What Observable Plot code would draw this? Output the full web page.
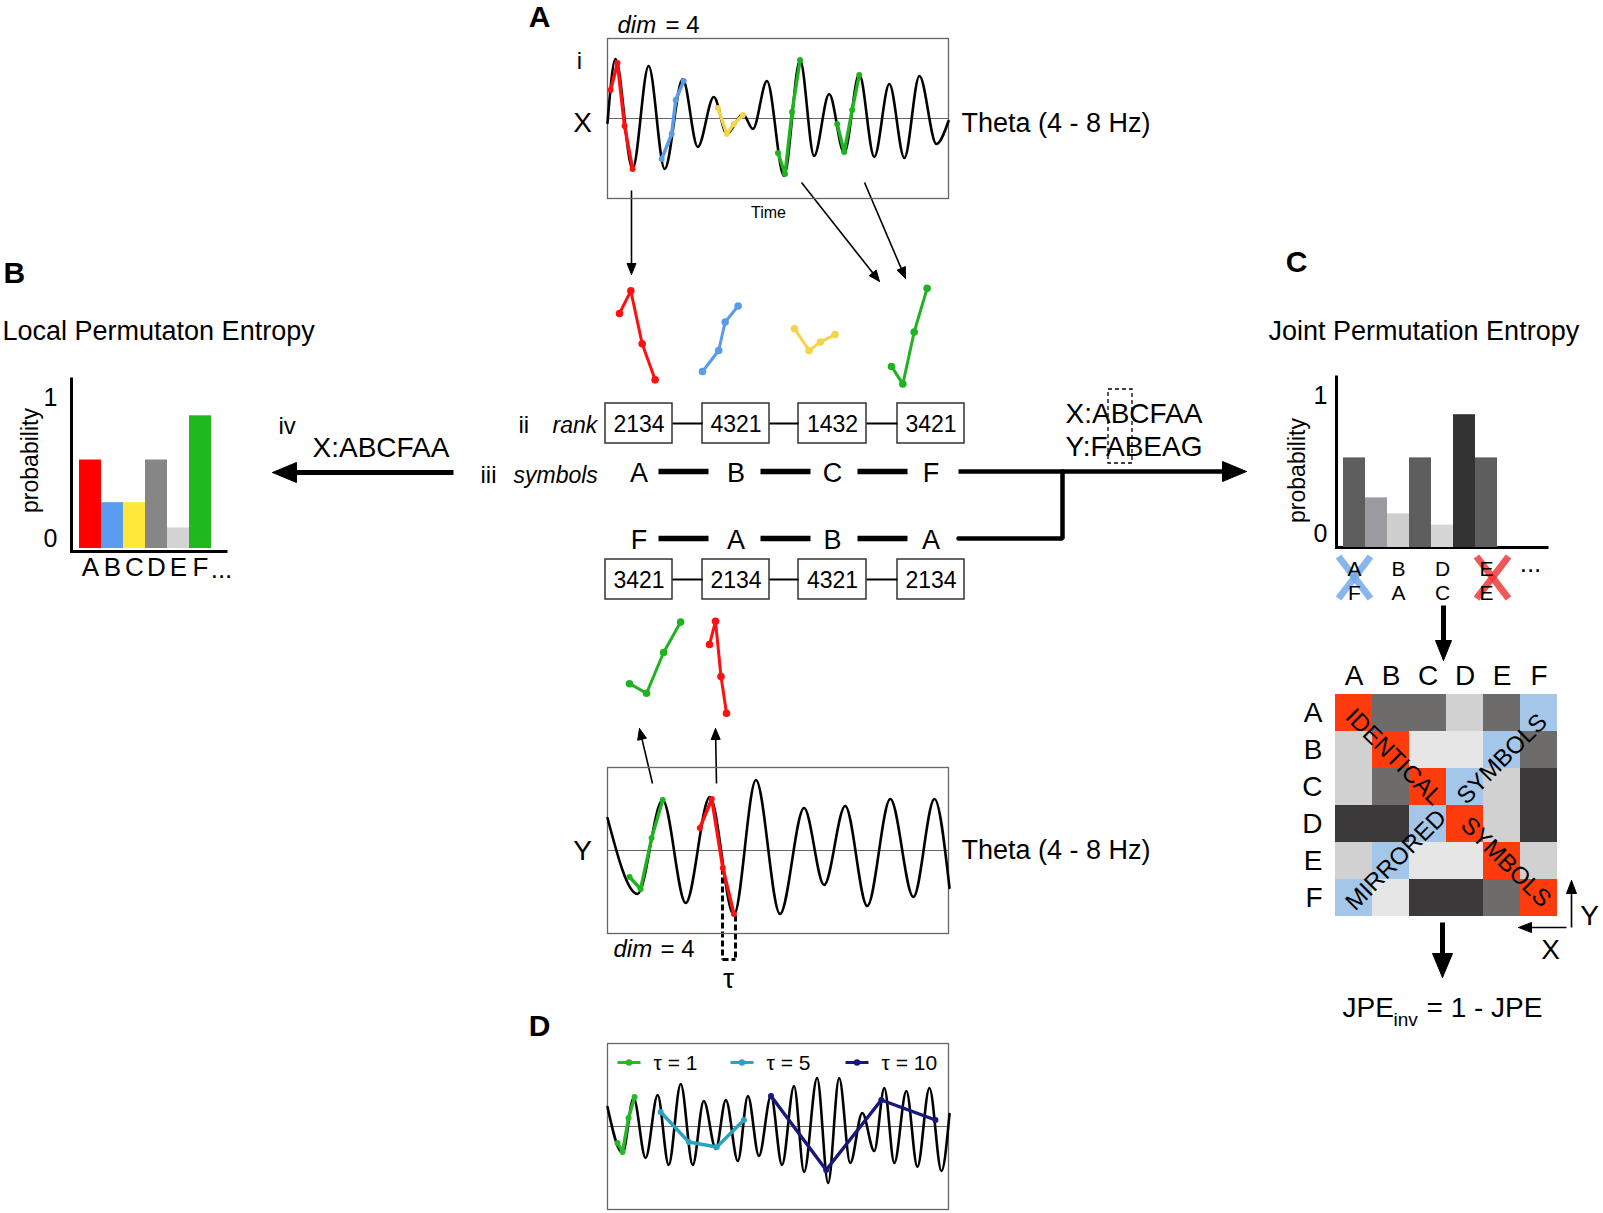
<!DOCTYPE html>
<html><head><meta charset="utf-8">
<script src="https://cdn.jsdelivr.net/npm/d3@7"></script>
<script src="https://cdn.jsdelivr.net/npm/@observablehq/plot@0.6"></script>
<style>
html,body{margin:0;padding:0;background:#fff;}
#root{position:relative;width:1603px;height:1213px;overflow:hidden;background:#fff;}
</style></head>
<body><div id="root"></div>
<script>
// ================= DATA =================
// Panel A(i): theta signal X – extrema [time, amplitude]
const signalX_t = [0,8,25,41,57,75,90,106,119,135,145,159,176,192,206,221,236,251,266,281,296,311,328,340];
const signalX_v = [-0.09,1.19,-1.01,1.05,-1.01,0.79,-0.57,0.43,-0.31,0.09,-0.21,0.75,-1.15,1.17,-0.75,0.49,-0.69,0.89,-0.77,0.69,-0.79,0.85,-0.51,-0.05];
// embedded motifs (dim = 4) on X
const motifX_t = [[3,10,17,25],[54,64,68,76],[110,119,126,135],[170,177,184,192],[229,236,244,251]];
const motifX_v = [[0.57,1.11,-0.15,-1.01],[-0.81,-0.31,0.37,0.75],[0.21,-0.31,-0.11,0.07],[-0.69,-1.11,0.13,1.17],[-0.11,-0.67,0.17,0.87]];
const ranksX = ["2134","4321","1432","3421"];
const symbolsX = ["A","B","C","F"];

// theta signal Y
const signalY_t = [0,30,55,78,102,126,148,172,196,216,237,259,282,305,326,341];
const signalY_v = [0.65,-0.87,1.01,-1.05,1.07,-1.29,1.41,-1.27,0.85,-0.69,0.89,-1.11,1.03,-0.93,1.03,-0.75];
const motifY_t = [[22,33,44,55],[92,104,115,126]];
const motifY_v = [[-0.53,-0.77,0.25,1.01],[0.45,1.03,-0.35,-1.27]];
const ranksY = ["3421","2134","4321","2134"];
const symbolsY = ["F","A","B","A"];
const seqX = "X:ABCFAA";
const seqY = "Y:FABEAG";

// Panel D: signal and motifs for three delays
const signalD_t = [0,15,26,38,50,61,73,85,96,108,118,130,140,151,163,174,186,196,209,220,231,242,254,266,276,286,298,309,321,333,341];
const signalD_v = [0.39,-0.53,0.57,-0.63,0.63,-0.77,0.85,-0.77,0.51,-0.45,0.53,-0.69,0.61,-0.59,0.61,-0.77,0.81,-0.91,0.97,-1.13,0.97,-0.73,0.27,-0.49,0.77,-0.73,0.71,-0.81,0.77,-0.89,0.25];
const tauValues = [1,5,10];
const motifD_t = [[10,15,21,27],[53,81,109,136],[163,218,273,327]];
const motifD_v = [[-0.33,-0.51,0.17,0.59],[0.29,-0.31,-0.41,0.13],[0.61,-0.87,0.53,0.13]];

// Panel B: local permutation entropy distribution
const lpeSymbols = ["A","B","C","D","E","F"];
const lpeProb = [0.56,0.29,0.29,0.56,0.13,0.84];

// Panel C: joint distribution
const jpeProb = [0.56,0.31,0.21,0.56,0.14,0.83,0.56];
const jpeLabelIdx = [0,2,4,6];
const jpeLabelX = ["A","B","D","E"];
const jpeLabelY = ["F","A","C","E"];
const jpeCrossKind = ["mirrored","identical"];

// Joint matrix (rows Y, cols X)
const matSymbols = ["A","B","C","D","E","F"];
const jpeMatrix = [
  ["id","g3","g3","g2","g3","mir"],
  ["g2","id","g1","g1","mir","g3"],
  ["g2","g3","id","mir","g2","g4"],
  ["g4","g4","mir","id","g2","g4"],
  ["g2","mir","g1","g1","id","g2"],
  ["mir","g1","g4","g4","g3","id"]
];
const matNotes = ["IDENTICAL","SYMBOLS","MIRRORED","SYMBOLS"];
const matNoteCells = [["B","B"],["E","B"],["B","E"],["E","E"]];

// ================= STYLE / LAYOUT =================
const W = 1603, H = 1213;
const FONT = '"Liberation Sans", Arial, Helvetica, sans-serif';
const svgStyle = {background:"transparent", overflow:"visible", fontFamily: FONT};
const motifXColors = ["#ff1010","#5a9bea","#f6d44a","#1fb41f","#1fb41f"];
const motifYColors = ["#1fb41f","#ff1010"];
const tauColors = ["#26b826","#2aa3c2","#17177c"];
const lpeColors = ["#ff0000","#5b9bf0","#ffe83a","#868686","#d3d3d3","#1fb81f"];
const jpeColors = ["#5e5e5e","#9b9b9f","#cfcfcf","#5e5e5e","#d6d6d6","#333333","#5e5e5e"];
const crossColors = {mirrored:"#72aaea", identical:"#f03a3a"};
const crossCenters = [[1354,577],[1492,577]];
const matColors = {domain:["id","mir","g1","g2","g3","g4"], range:["#fe3b0c","#a4c6e8","#e6e6e6","#d1d1d1","#6e6b6b","#3b3939"]};
const intFmt = d => String(d);

const root = document.getElementById("root");
function place(svg, left, top){
  svg.style.position = "absolute";
  svg.style.left = left + "px";
  svg.style.top = top + "px";
  root.appendChild(svg);
}
const pts = (t, v) => t.map((d,i) => ({t:d, v:v[i]}));

// ---------- overlay (diagram annotations) ----------
const M = [];
function seg(list, w, o = {}) {
  M.push(Plot.link(list, {x1:d=>d[0], y1:d=>d[1], x2:d=>d[2], y2:d=>d[3], stroke:"#000", strokeWidth:w, ...o}));
}
function T(s, x, y, size, o = {}) {
  M.push(Plot.text([s], {x:()=>x, y:()=>y, text:d=>d, fontSize:size, fill:"#000", fontFamily:FONT, textAnchor:"middle", ...o}));
}
function arrow(x1, y1, x2, y2, w, len, half) {
  const dx = x2-x1, dy = y2-y1, Ln = Math.hypot(dx,dy), ux = dx/Ln, uy = dy/Ln;
  seg([[x1, y1, x2-ux*len*0.8, y2-uy*len*0.8]], w);
  const bx = x2-ux*len, by = y2-uy*len;
  const poly = [[x2,y2],[bx-uy*half, by+ux*half],[bx+uy*half, by-ux*half],[x2,y2]];
  M.push(Plot.line(poly, {x:d=>d[0], y:d=>d[1], fill:"#000", stroke:"#000", strokeWidth:1}));
}

// panel letters and titles
T("A", 539, 17, 30, {fontWeight:"bold"});
T("B", 3, 273, 30, {fontWeight:"bold", textAnchor:"start"});
T("C", 1296, 262, 30, {fontWeight:"bold"});
T("D", 539, 1026, 30, {fontWeight:"bold"});
T("Local Permutaton Entropy", 2, 331, 27, {textAnchor:"start"});
T("Joint Permutation Entropy", 1268, 331, 27, {textAnchor:"start"});

// panel A labels
T("dim", 617, 25, 24, {textAnchor:"start", fontStyle:"italic"});
T("= 4", 665, 25, 24, {textAnchor:"start"});
T("dim", 613, 949, 24, {textAnchor:"start", fontStyle:"italic"});
T("= 4", 660, 949, 24, {textAnchor:"start"});
T("i", 579, 61, 24);
T("X", 582, 123, 28);
T("Y", 582, 851, 28);
T("Theta (4 - 8 Hz)", 961, 123, 27, {textAnchor:"start"});
T("Theta (4 - 8 Hz)", 961, 850, 27, {textAnchor:"start"});
T("Time", 768, 212, 16);
T("τ", 728, 979, 28);
T("ii", 518, 425, 24, {textAnchor:"start"});
T("rank", 552, 425, 23, {textAnchor:"start", fontStyle:"italic"});
T("iii", 480, 475, 24, {textAnchor:"start"});
T("symbols", 513, 475, 23, {textAnchor:"start", fontStyle:"italic"});
T("iv", 278, 426, 24, {textAnchor:"start"});
T(seqX, 312, 448, 28, {textAnchor:"start"});
T(seqX, 1065, 414, 28, {textAnchor:"start"});
T(seqY, 1065, 447, 28, {textAnchor:"start"});

// rank boxes and symbols
const boxL = [605,702,798,897], boxR = [672,769,866,964];
const boxC = boxL.map((l,i)=>(l+boxR[i])/2);
[[403,443,423,ranksX],[559,599,579,ranksY]].forEach(([y1,y2,yc,labels]) => {
  M.push(Plot.rect(boxL.map((l,i)=>({x1:l, x2:boxR[i], y1, y2})), {x1:"x1", x2:"x2", y1:"y1", y2:"y2", fill:"none", stroke:"#333", strokeWidth:1.5}));
  seg([0,1,2].map(i=>[boxR[i], yc, boxL[i+1], yc]), 2);
  labels.forEach((s,i)=>T(s, boxC[i], yc+1, 23));
});
[[471,473,symbolsX],[538,540,symbolsY]].forEach(([yl,yt,syms]) => {
  seg([[658,yl,708,yl],[760,yl,810,yl],[857,yl,907,yl]], 5.5);
  syms.forEach((s,i)=>T(s, boxC[i], yt, 27));
});
M.push(Plot.line([[958,538],[1062,538],[1062,471]], {x:d=>d[0], y:d=>d[1], stroke:"#000", strokeWidth:4.5, strokeLinejoin:"miter"}));
arrow(958, 471, 1246, 471, 4.5, 24, 10);
M.push(Plot.rect([{x1:1108,x2:1132,y1:389,y2:463}], {x1:"x1",x2:"x2",y1:"y1",y2:"y2", fill:"none", stroke:"#000", strokeWidth:1.3, strokeDasharray:"4,3"}));
arrow(453, 472, 272, 472, 5, 24, 10);

// thin arrows from signals to motifs
arrow(631, 190, 631, 274, 1.6, 11, 4.5);
arrow(801, 182, 879, 281, 1.6, 11, 4.5);
arrow(864, 182, 905, 278, 1.6, 11, 4.5);
arrow(652, 783, 639, 728, 1.6, 11, 4.5);
arrow(716, 783, 715, 728, 1.6, 11, 4.5);

// tau bracket
seg([[722,868,722,959],[735,915,735,959],[722,959,735,959]], 3, {strokeDasharray:"6,3"});

// B and C axes lines
seg([[71,377,71,552.5],[69.5,551,227,551]], 3);
seg([[1336,375,1336,548.5],[1334.5,547,1548,547]], 3);
T("...", 221, 569, 26);
T("...", 1530, 563, 26);

// strike-through crosses over excluded joint symbols (panel C)
jpeCrossKind.forEach((kind,k) => {
  const [cx, cy] = crossCenters[k];
  seg([[cx-16, cy-21, cx+16, cy+21],[cx+16, cy-21, cx-16, cy+21]], 7, {stroke:crossColors[kind], strokeOpacity:0.85});
});

// C -> matrix -> JPE arrows
arrow(1443, 605, 1443, 660, 5, 20, 8);
arrow(1442, 922, 1442, 977, 5, 24, 10);
arrow(1571, 927, 1571, 880, 1.6, 13, 5);
arrow(1566, 927, 1518, 927, 1.6, 13, 5);
T("Y", 1589, 916, 28);
T("X", 1550, 950, 28);
T("JPE", 1342, 1008, 28, {textAnchor:"start"});
T("inv", 1393, 1019, 19, {textAnchor:"start"});
T("= 1 - JPE", 1426, 1008, 28, {textAnchor:"start"});

// D legend
const legX = [617,730,845];
tauValues.forEach((tau,i) => {
  seg([[legX[i],1062,legX[i]+23,1062]], 3, {stroke:tauColors[i]});
  M.push(Plot.dot([0], {x:()=>legX[i]+11.5, y:()=>1062, r:3.2, fill:tauColors[i]}));
  T(`τ = ${tau}`, legX[i]+36, 1063, 21, {textAnchor:"start"});
});

place(Plot.plot({
  width:W, height:H, margin:0,
  x:{domain:[0,W], range:[0,W], axis:null},
  y:{domain:[0,H], range:[0,H], axis:null},
  style:svgStyle, marks:M
}), 0, 0);

// ---------- wave plots ----------
function wavePlot(t, v, mt, mv, colors, height, yMax) {
  const marks = [
    Plot.frame({stroke:"#666", strokeWidth:1.3}),
    Plot.ruleY([0], {stroke:"#666", strokeWidth:1.1}),
    Plot.line(pts(t,v), {x:"t", y:"v", curve:"monotone-x", stroke:"#000", strokeWidth:2.6})
  ];
  mt.forEach((tt,k) => {
    const p = pts(tt, mv[k]);
    marks.push(Plot.line(p, {x:"t", y:"v", stroke:colors[k], strokeWidth:3.4}));
    marks.push(Plot.dot(p, {x:"t", y:"v", fill:colors[k], r:3}));
  });
  return Plot.plot({width:343, height, margin:1, x:{domain:[0,340], axis:null}, y:{domain:[-yMax,yMax], axis:null}, style:svgStyle, marks});
}
place(wavePlot(signalX_t, signalX_v, motifX_t, motifX_v, motifXColors, 162, 1.6), 606, 37);
place(wavePlot(signalY_t, signalY_v, motifY_t, motifY_v, motifYColors, 168, 1.66), 606, 766);
place(wavePlot(signalD_t, signalD_v, motifD_t, motifD_v, tauColors, 168, 1.66), 606, 1042);

// ---------- stand-alone motifs ----------
function motifPlot(t, v, color, left, kx, top, height, zeroY, ky) {
  const width = (t[t.length-1]-t[0])*kx;
  const p = pts(t, v);
  place(Plot.plot({
    width, height, margin:0,
    x:{domain:[t[0], t[t.length-1]], range:[0,width], axis:null},
    y:{domain:[(zeroY-top-height)/ky, (zeroY-top)/ky], range:[height,0], axis:null},
    style:svgStyle,
    marks:[Plot.line(p, {x:"t", y:"v", stroke:color, strokeWidth:3}), Plot.dot(p, {x:"t", y:"v", fill:color, r:3.8})]
  }), left, top);
}
const motifXLeft = [619,702,794,891];
[0,1,2,3].forEach(k => motifPlot(motifX_t[k], motifX_v[k], motifXColors[k], motifXLeft[k], 1.62, 270, 130, 337, 42));
motifPlot(motifY_t[0], motifY_v[0], motifYColors[0], 629, 1.55, 600, 130, 662, 40);
motifPlot(motifY_t[1], motifY_v[1], motifYColors[1], 709, 0.5, 600, 130, 662, 40);

// ---------- Panel B bars ----------
place(Plot.plot({
  width:240, height:240, marginLeft:78, marginRight:29, marginTop:30, marginBottom:52,
  x:{domain:lpeSymbols, padding:0}, y:{domain:[0,1]}, color:{type:"identity"},
  style:svgStyle,
  marks:[
    Plot.barY(lpeSymbols.map((s,i)=>({s, p:lpeProb[i], c:lpeColors[i]})), {x:"s", y:"p", fill:"c"}),
    Plot.axisX({tickSize:0, tickPadding:9, fontSize:26, label:null}),
    Plot.axisY({ticks:[1], tickFormat:intFmt, tickSize:0, tickPadding:21, fontSize:25, label:null, dy:7}),
    Plot.axisY({ticks:[0], tickFormat:intFmt, tickSize:0, tickPadding:21, fontSize:25, label:null, dy:-10}),
    Plot.text(["probability"], {frameAnchor:"left", textAnchor:"middle", dx:-48, dy:-9, rotate:-90, fontSize:23, fill:"#000"})
  ]
}), 0, 360);

// ---------- Panel C bars ----------
place(Plot.plot({
  width:310, height:250, marginLeft:82, marginRight:73, marginTop:27, marginBottom:63,
  x:{domain:d3.range(jpeProb.length), padding:0, axis:null}, y:{domain:[0,1]}, color:{type:"identity"},
  style:svgStyle,
  marks:[
    Plot.barY(jpeProb.map((p,i)=>({i, p, c:jpeColors[i]})), {x:"i", y:"p", fill:"c"}),
    Plot.axisY({ticks:[1], tickFormat:intFmt, tickSize:0, tickPadding:15, fontSize:25, label:null, dy:8}),
    Plot.axisY({ticks:[0], tickFormat:intFmt, tickSize:0, tickPadding:15, fontSize:25, label:null, dy:-14}),
    Plot.text(jpeLabelIdx.map((i,k)=>({i, s:`${jpeLabelX[k]}\n${jpeLabelY[k]}`})), {x:"i", text:"s", frameAnchor:"bottom", lineAnchor:"top", lineHeight:1.12, dy:12, fontSize:21, fill:"#000"}),
    Plot.text(["probability"], {frameAnchor:"left", textAnchor:"middle", dx:-45, dy:3, rotate:-90, fontSize:23, fill:"#000"})
  ]
}), 1260, 360);

// ---------- joint matrix ----------
const cells = [];
jpeMatrix.forEach((row,r) => row.forEach((k,c) => cells.push({xs:matSymbols[c], ys:matSymbols[r], k})));
const noteDx = [3,0,5,4], noteDy = [7,9,-1,1], noteRot = [45,-45,-45,45];
place(Plot.plot({
  width:300, height:290, marginLeft:43, marginRight:31, marginTop:52, marginBottom:12,
  x:{domain:matSymbols, padding:0}, y:{domain:matSymbols, padding:0},
  color:matColors, style:svgStyle,
  marks:[
    Plot.cell(cells, {x:"xs", y:"ys", fill:"k", inset:0}),
    Plot.axisX({anchor:"top", tickSize:0, tickPadding:8, fontSize:28, label:null}),
    Plot.axisY({anchor:"left", tickSize:0, tickPadding:11, fontSize:28, label:null}),
    ...matNotes.map((s,i) => Plot.text([s], {x:()=>matNoteCells[i][0], y:()=>matNoteCells[i][1], text:d=>d, rotate:noteRot[i], dx:noteDx[i], dy:noteDy[i], fontSize:24, fill:"#000"}))
  ]
}), 1290, 640);
</script></body></html>
